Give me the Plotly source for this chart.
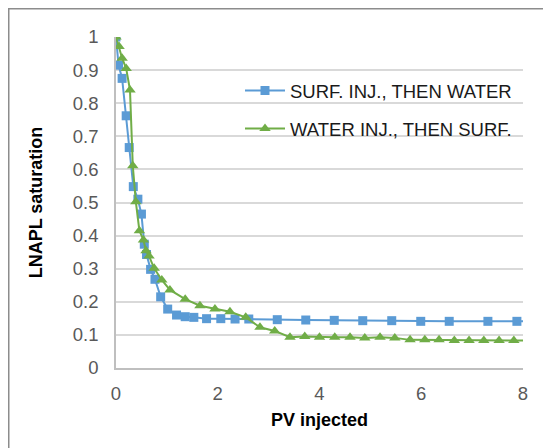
import plotly.graph_objects as go

pv_surf = [0, 0.05, 0.12, 0.2, 0.26, 0.34, 0.43, 0.5, 0.556, 0.60, 0.68, 0.766, 0.878, 1.016,
           1.19, 1.36, 1.53, 1.78, 2.06, 2.34, 2.61, 3.17, 3.73, 4.29, 4.85, 5.42, 5.99, 6.55,
           7.31, 7.88, 8.3]
sat_surf = [1.0, 0.915, 0.875, 0.762, 0.666, 0.548, 0.51, 0.465, 0.374, 0.343, 0.298, 0.268,
            0.215, 0.178, 0.16, 0.155, 0.153, 0.149, 0.149, 0.148, 0.148, 0.146, 0.145, 0.144,
            0.143, 0.143, 0.141, 0.141, 0.141, 0.141, 0.141]

pv_water = [0, 0.06, 0.12, 0.2, 0.275, 0.33, 0.39, 0.46, 0.54, 0.59, 0.65, 0.75, 0.90, 1.06,
            1.36, 1.65, 1.945, 2.24, 2.55, 2.83, 3.12, 3.42, 3.71, 4.0, 4.30, 4.60, 4.89, 5.19,
            5.48, 5.78, 6.07, 6.35, 6.65, 6.94, 7.23, 7.53, 7.82, 8.2]
sat_water = [1.0, 0.971, 0.936, 0.905, 0.84, 0.611, 0.502, 0.415, 0.387, 0.354, 0.338, 0.301,
             0.266, 0.236, 0.208, 0.188, 0.178, 0.170, 0.153, 0.123, 0.112, 0.093, 0.095, 0.093,
             0.093, 0.093, 0.091, 0.093, 0.091, 0.085, 0.085, 0.085, 0.083, 0.083, 0.083, 0.083,
             0.083, 0.083]

x_ticks = [0, 2, 4, 6, 8]
y_ticks = [round(i * 0.1, 1) for i in range(11)]
y_labels = ["0", "0.1", "0.2", "0.3", "0.4", "0.5", "0.6", "0.7", "0.8", "0.9", "1"]

FONT = "Liberation Sans, Arial, sans-serif"

fig = go.Figure()
fig.add_trace(go.Scatter(
    x=pv_surf, y=sat_surf, mode="lines+markers", name="SURF. INJ., THEN WATER",
    line=dict(color="#5B9BD5", width=2),
    marker=dict(symbol="square", size=9, color="#5B9BD5"),
    legendgroup="a", cliponaxis=True))
fig.add_trace(go.Scatter(
    x=pv_water, y=sat_water, mode="lines+markers", name="WATER INJ., THEN SURF.",
    line=dict(color="#70AD47", width=2),
    marker=dict(symbol="triangle-up", size=10, color="#70AD47"),
    legendgroup="b", cliponaxis=True))

# page body has an 8px margin, so the figure is laid out 8px smaller
W, H = 543, 440
L, R, T, B = 108, 28, 29, 80
pw, ph = W - L - R, H - T - B

fig.update_layout(
    width=W, height=H,
    margin=dict(l=L, r=R, t=T, b=B),
    paper_bgcolor="white", plot_bgcolor="white",
    font=dict(family=FONT, size=18.5, color="#595959"),
    showlegend=True,
    legend=dict(
        x=(232 - L) / pw, y=(H - B - 64) / ph, xanchor="left", yanchor="top",
        font=dict(family=FONT, size=18.5, color="#1a1a1a"),
        bgcolor="rgba(255,255,255,0)", tracegroupgap=11, traceorder="grouped",
        itemwidth=40,
    ),
    xaxis=dict(
        range=[0, 8], tickvals=x_ticks, ticktext=[str(v) for v in x_ticks],
        showgrid=False, zeroline=False, showline=True, linecolor="#BFBFBF", linewidth=1.5,
        ticks="", ticklabelstandoff=8,
        title=dict(text="<b>PV injected</b>", font=dict(family=FONT, size=18, color="black"),
                   standoff=10),
    ),
    yaxis=dict(
        range=[0, 1], tickvals=y_ticks, ticktext=y_labels,
        showgrid=True, gridcolor="#D9D9D9", gridwidth=1.5,
        zeroline=False, showline=True, linecolor="#BFBFBF", linewidth=1.5,
        ticks="", ticklabelstandoff=12,
        title=dict(text="<b>LNAPL saturation</b>", font=dict(family=FONT, size=18, color="black"),
                   standoff=26),
    ),
    shapes=[dict(
        type="rect", xref="paper", yref="paper",
        x0=(0.75 - L) / pw, x1=(W + 20 - L) / pw,
        y0=(H - B - H - 20) / ph, y1=(H - B - 0.75) / ph,
        line=dict(color="#8C8C8C", width=1.5), fillcolor="rgba(0,0,0,0)", layer="below",
    )],
)

fig.write_html("out.html")
